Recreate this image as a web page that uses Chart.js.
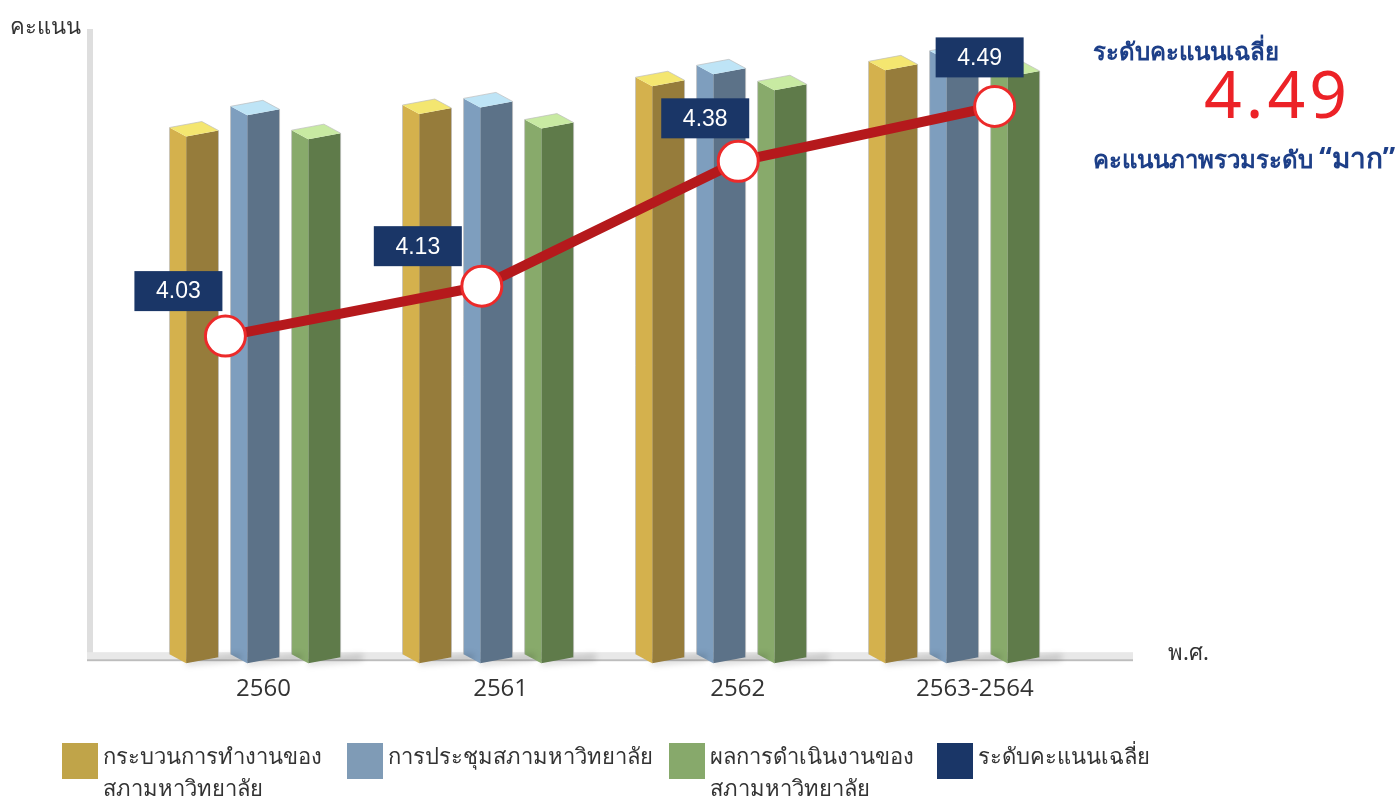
<!DOCTYPE html>
<html>
<head>
<meta charset="utf-8">
<script src="https://cdn.jsdelivr.net/npm/chart.js@4.4.1/dist/chart.umd.min.js"></script>
<style>
  html, body { margin: 0; padding: 0; background: #fff; }
  #wrap { position: relative; width: 1400px; height: 803px; overflow: hidden;
          font-family: "Noto Sans", "Open Sans", sans-serif; color: #333; }
  #chart { position: absolute; left: 0; top: 0; }
  .axis-title { position: absolute; font-size: 22px; color: #333; }
  #ytitle { left: 10px; top: 9px; }
  #xtitle { left: 1168px; top: 635px; }
  #avgTitle { position: absolute; left: 1093px; top: 32px; font-size: 24px; font-weight: bold; color: #1d3f88; }
  #avgValue { position: absolute; left: 1204px; top: 47px; font-size: 66px; color: #ec2227; letter-spacing: 4px; }
  #avgNote { position: absolute; left: 1093px; top: 136px; font-size: 24px; font-weight: bold; color: #1d3f88; white-space: nowrap; }
  #avgNote span { font-size: 28px; }
  .lg-item { position: absolute; top: 743px; display: flex; align-items: flex-start; }
  .lg-box { width: 36px; height: 36px; flex: none; }
  .lg-text { margin-left: 5px; margin-top: -4px; font-size: 22px; line-height: 32px; white-space: pre-line; color: #333; }
</style>
</head>
<body>
<div id="wrap">
  <canvas id="chart" width="1400" height="803"></canvas>
  <div id="ytitle" class="axis-title">คะแนน</div>
  <div id="xtitle" class="axis-title">พ.ศ.</div>
  <div id="avgTitle">ระดับคะแนนเฉลี่ย</div>
  <div id="avgValue"></div>
  <div id="avgNote">คะแนนภาพรวมระดับ <span>“มาก”</span></div>
  <div id="legend"></div>
</div>
<script>
// data
const years = ["2560", "2561", "2562", "2563-2564"];
const seriesNames = [
  "กระบวนการทำงานของ\nสภามหาวิทยาลัย",
  "การประชุมสภามหาวิทยาลัย",
  "ผลการดำเนินงานของ\nสภามหาวิทยาลัย"
];
const processScores = [3.98, 4.15, 4.36, 4.48];
const meetingScores = [4.14, 4.20, 4.45, 4.56];
const resultScores = [3.96, 4.04, 4.33, 4.43];
const avgName = "ระดับคะแนนเฉลี่ย";
const avgScores = [4.03, 4.13, 4.38, 4.49];

// colours of the faces of each 3d bar
const palette = [
  { swatch: "#c0a449", light: "#d4b14d", dark: "#967c3b", top: "#f4e670" },
  { swatch: "#7f9bb6", light: "#7e9ebe", dark: "#5c7288", top: "#bee4f6" },
  { swatch: "#87a96b", light: "#88aa6b", dark: "#5f7b4a", top: "#c8eaa2" }
];
const navy = "#1a3667";

// each series sits on its own hidden x axis so the three bars of a year stand side by side
const barAxes = [
  { id: "xa", min: -0.236, max: 3.755 },
  { id: "xb", min: -0.498, max: 3.493 },
  { id: "xc", min: -0.760, max: 3.231 }
];

function poly(ctx, pts) {
  ctx.beginPath();
  ctx.moveTo(pts[0][0], pts[0][1]);
  for (let i = 1; i < pts.length; i++) ctx.lineTo(pts[i][0], pts[i][1]);
  ctx.closePath();
  ctx.fill();
}

// grey wall and floor behind the bars
const floorPlugin = {
  id: "floor",
  beforeDatasetsDraw(chart) {
    const ctx = chart.ctx, ca = chart.chartArea;
    ctx.save();
    ctx.fillStyle = "#dedede";
    ctx.fillRect(ca.left - 52, ca.top + 6, 6, ca.bottom - ca.top - 6);
    ctx.fillStyle = "#e8e8e8";
    ctx.fillRect(ca.left - 52, ca.bottom - 6, ca.right - ca.left + 116, 7);
    ctx.fillStyle = "#bdbdbd";
    ctx.fillRect(ca.left - 52, ca.bottom + 1, ca.right - ca.left + 116, 2);
    ctx.restore();
  }
};

// draws each bar element as a prism seen from the front-left
const bar3dPlugin = {
  id: "bar3d",
  afterDatasetDraw(chart, args) {
    const meta = args.meta;
    if (meta.type !== "bar") return;
    const pal = palette[chart.data.datasets[args.index].paletteIndex];
    const ctx = chart.ctx;
    meta.data.forEach((bar) => {
      const { x, y, base, width } = bar.getProps(["x", "y", "base", "width"], true);
      const l = x - width / 2, r = x + width / 2;
      const f = l + width * 0.34, b = l + width * 0.66;
      ctx.save();
      ctx.filter = "blur(3px)";
      ctx.fillStyle = "rgba(0,0,0,0.18)";
      poly(ctx, [[f, base + 2], [r + 22, base - 4], [r + 22, base + 2], [f, base + 7]]);
      ctx.filter = "none";
      ctx.fillStyle = pal.dark;
      poly(ctx, [[f, y + 5], [r, y - 1], [r, base - 1], [f, base + 5]]);
      ctx.fillStyle = pal.light;
      poly(ctx, [[l, y - 4], [f, y + 5], [f, base + 5], [l, base - 4]]);
      ctx.fillStyle = pal.top;
      poly(ctx, [[l, y - 4], [b, y - 10], [r, y - 1], [f, y + 5]]);
      ctx.strokeStyle = "rgba(190,190,190,0.7)";
      ctx.lineWidth = 1;
      ctx.beginPath();
      ctx.moveTo(l, base - 4); ctx.lineTo(l, y - 4); ctx.lineTo(b, y - 10); ctx.lineTo(r, y - 1); ctx.lineTo(r, base - 1);
      ctx.stroke();
      ctx.restore();
    });
  }
};

// navy value boxes above the average line
const boxPlugin = {
  id: "valueBoxes",
  afterDatasetsDraw(chart, args, opts) {
    const ctx = chart.ctx;
    chart.data.datasets.forEach((ds, di) => {
      if (ds.type !== "line") return;
      chart.getDatasetMeta(di).data.forEach((pt, i) => {
        const cx = pt.x + opts.shiftX[i], cy = pt.y + opts.shiftY[i];
        ctx.save();
        ctx.fillStyle = navy;
        ctx.fillRect(cx - 44, cy - 20, 88, 40);
        ctx.fillStyle = "#fff";
        ctx.font = "23px 'Liberation Sans', Arial, sans-serif";
        ctx.textAlign = "center";
        ctx.textBaseline = "middle";
        ctx.fillText(avgScores[i].toFixed(2), cx, cy + 1);
        ctx.restore();
      });
    });
  }
};

const barSets = [processScores, meetingScores, resultScores].map((vals, i) => ({
  type: "bar",
  label: seriesNames[i],
  data: vals.map((v, j) => ({ x: j, y: v })),
  paletteIndex: i,
  backgroundColor: "rgba(0,0,0,0)",
  borderWidth: 0,
  xAxisID: barAxes[i].id,
  yAxisID: "y",
  order: 1,
  grouped: false,
  barThickness: 49
}));

const scales = {
  xl: { type: "linear", display: false, offset: false, min: -0.337, max: 3.29 },
  xt: {
    type: "linear",
    position: "bottom",
    offset: false,
    min: -0.525,
    max: 3.397,
    grid: { display: false, drawTicks: false },
    border: { display: false },
    afterBuildTicks: (s) => { s.ticks = years.map((_, i) => ({ value: i })); },
    ticks: {
      padding: 17,
      autoSkip: false,
      maxRotation: 0,
      color: "#333",
      font: { family: "'Open Sans', 'Noto Sans', sans-serif", size: 24 },
      callback: (v) => years[v]
    }
  },
  y: { display: false, min: 0, max: 4.8 },
  y2: { display: false, min: 3.385, max: 4.657 }
};
barAxes.forEach((a) => {
  scales[a.id] = { type: "linear", display: false, offset: false, min: a.min, max: a.max };
});

new Chart(document.getElementById("chart").getContext("2d"), {
  data: {
    datasets: [
      {
        type: "line",
        label: avgName,
        data: avgScores.map((v, i) => ({ x: i, y: v })),
        xAxisID: "xl",
        yAxisID: "y2",
        order: 0,
        borderColor: "#b5191c",
        borderWidth: 10,
        pointRadius: 20,
        pointBorderWidth: 3,
        pointBorderColor: "#ec2a2a",
        pointBackgroundColor: "#fff",
        tension: 0
      },
      ...barSets
    ]
  },
  options: {
    responsive: false,
    animation: false,
    layout: { padding: { left: 139, right: 331, top: 18, bottom: 82 } },
    plugins: {
      legend: { display: false },
      tooltip: { enabled: false },
      valueBoxes: { shiftX: [-47, -64, -33, -15], shiftY: [-45, -40, -43, -49] }
    },
    scales: scales
  },
  plugins: [floorPlugin, bar3dPlugin, boxPlugin]
});

document.getElementById("avgValue").textContent = avgScores[avgScores.length - 1].toFixed(2);

// legend under the chart
const legendLeft = [62, 347, 669, 937];
const legendItems = seriesNames.map((n, i) => ({ text: n, color: palette[i].swatch }))
  .concat([{ text: avgName, color: navy }]);
const legendEl = document.getElementById("legend");
legendItems.forEach((it, i) => {
  const item = document.createElement("div");
  item.className = "lg-item";
  item.style.left = legendLeft[i] + "px";
  const box = document.createElement("div");
  box.className = "lg-box";
  box.style.background = it.color;
  const txt = document.createElement("div");
  txt.className = "lg-text";
  txt.textContent = it.text;
  item.appendChild(box);
  item.appendChild(txt);
  legendEl.appendChild(item);
});
</script>
</body>
</html>
